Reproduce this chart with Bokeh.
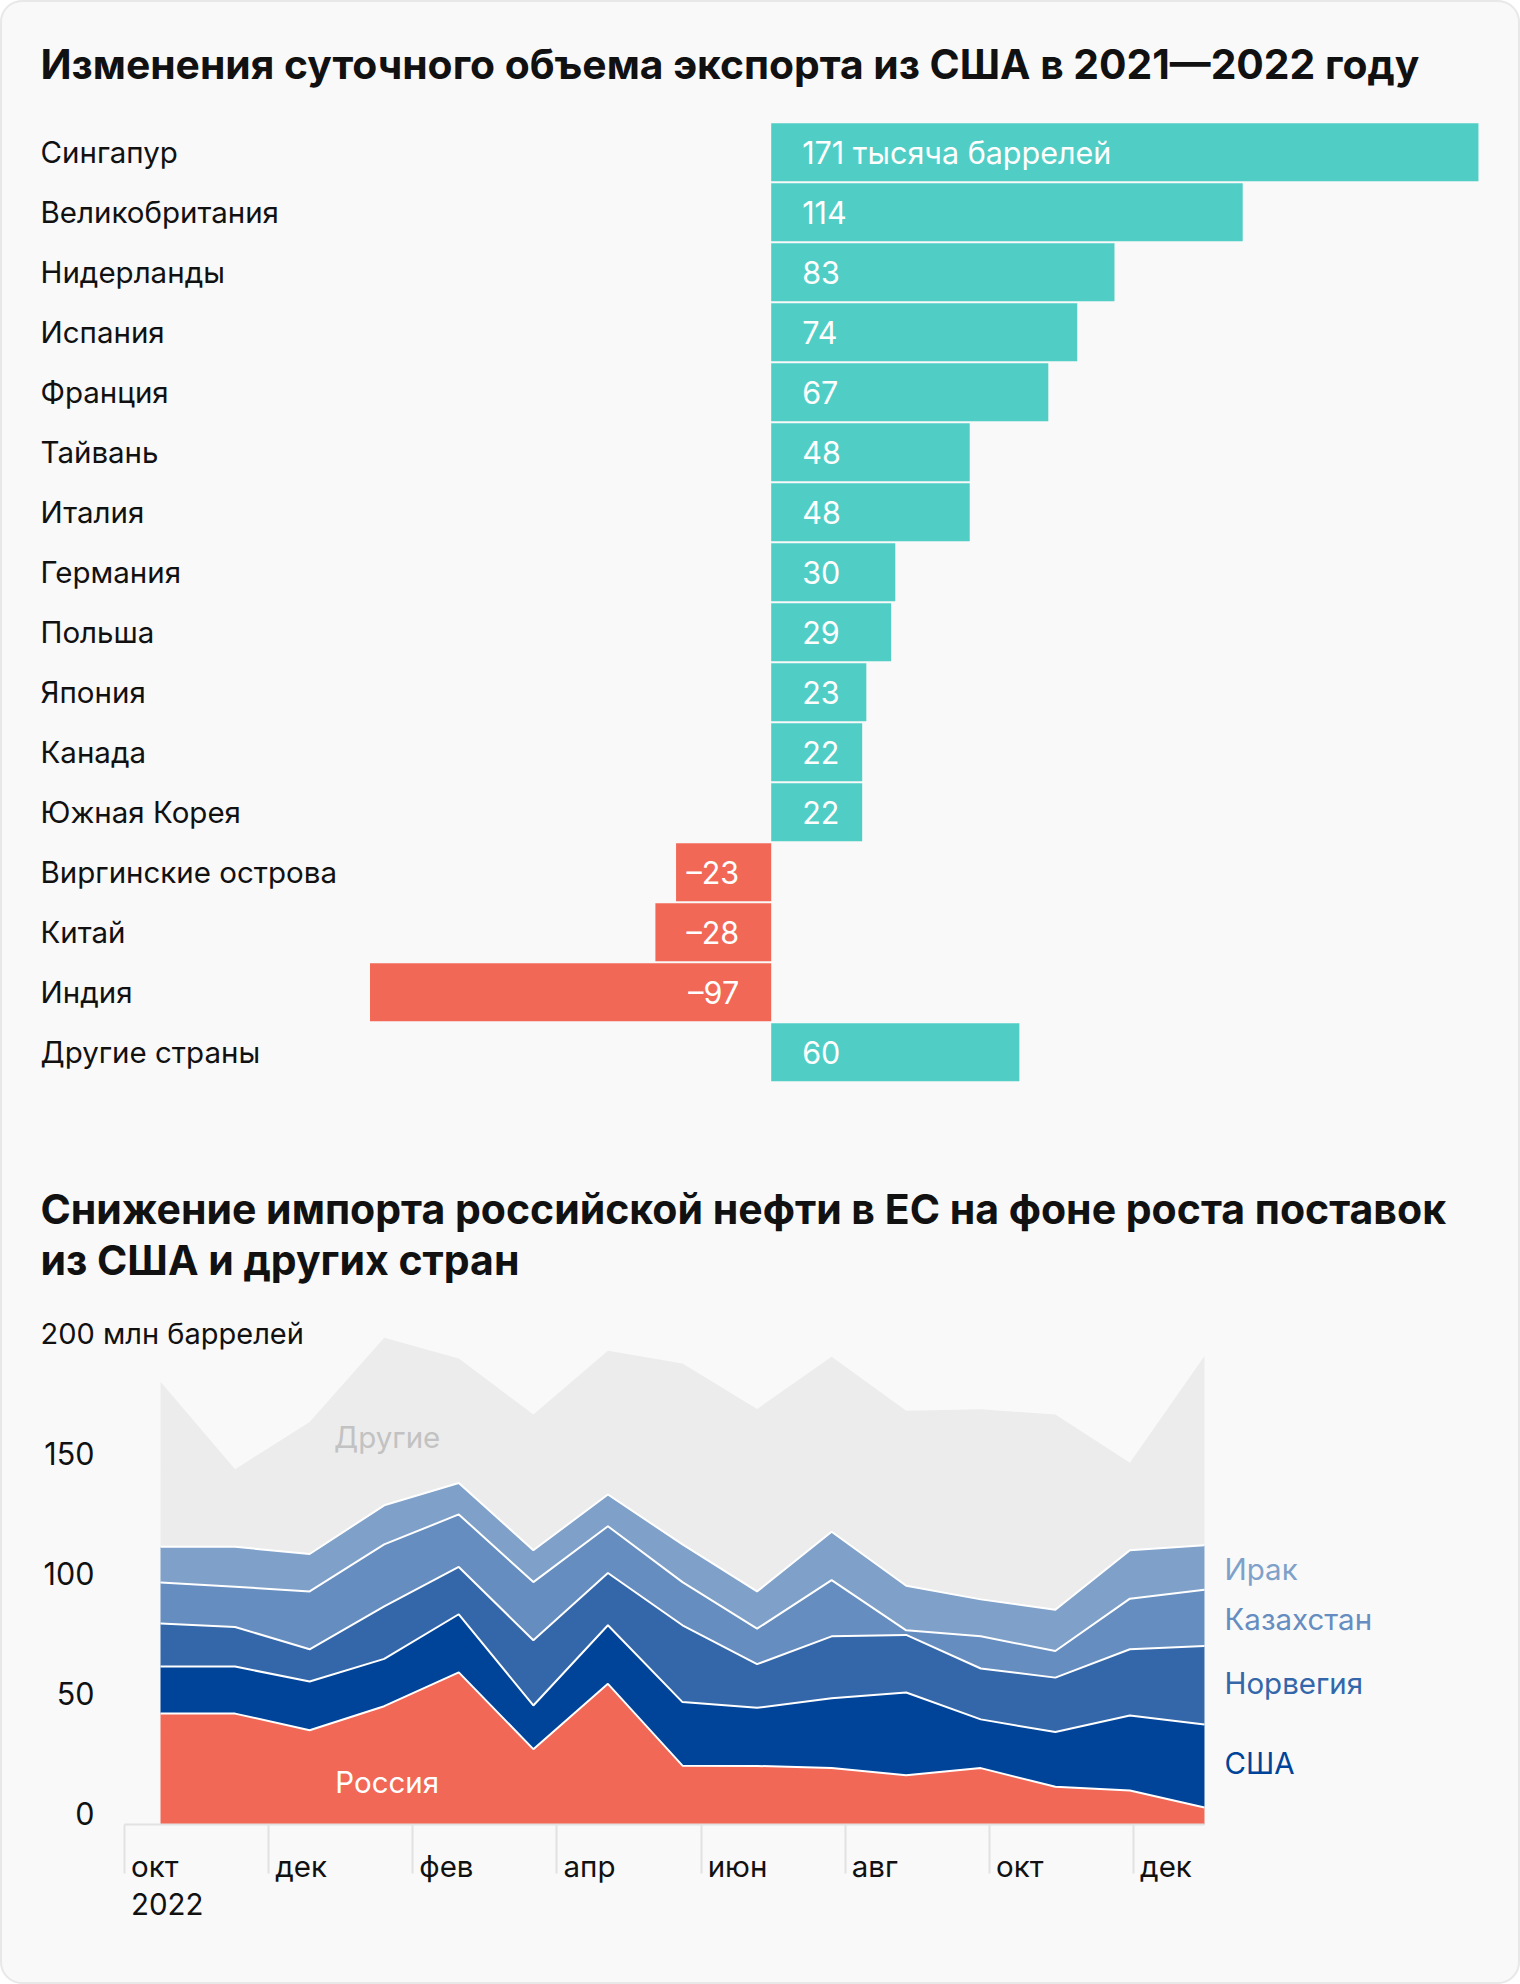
from bokeh.plotting import figure
from bokeh.models import Range1d, ColumnDataSource, LinearAxis, FixedTicker
from bokeh.layouts import column
from bokeh.embed import file_html
from bokeh.resources import INLINE
from bokeh.core.properties import value

# ---------------- data: chart 1 ----------------
TITLE1 = "Изменения суточного объема экспорта из США в 2021—2022 году"
countries = ["Сингапур", "Великобритания", "Нидерланды", "Испания", "Франция",
             "Тайвань", "Италия", "Германия", "Польша", "Япония", "Канада",
             "Южная Корея", "Виргинские острова", "Китай", "Индия", "Другие страны"]
changes = [171, 114, 83, 74, 67, 48, 48, 30, 29, 23, 22, 22, -23, -28, -97, 60]
first_unit = "тысяча баррелей"

# ---------------- data: chart 2 ----------------
TITLE2 = ["Снижение импорта российской нефти в ЕС на фоне роста поставок",
          "из США и других стран"]
unit_label = "млн баррелей"
russia  = [46.2, 46.2, 39.3, 49.3, 63.4, 31.4, 58.6, 24.5, 24.4, 23.5, 20.5, 23.5, 15.7, 14.2, 7.1]
usa     = [19.6, 19.6, 20.3, 19.7, 24.2, 18.2, 24.4, 26.5, 24.2, 29.1, 34.5, 20.3, 22.8, 31.2, 34.6]
norway  = [17.9, 16.5, 13.4, 21.9, 19.7, 27.2, 21.8, 32.0, 18.2, 25.8, 24.0, 21.2, 22.7, 27.6, 32.7]
kazakh  = [17.1, 16.8, 24.1, 25.8, 21.9, 24.2, 19.5, 18.0, 14.8, 23.4, 1.9, 13.4, 11.1, 21.1, 23.4]
iraq    = [14.9, 16.6, 15.6, 16.3, 13.1, 13.3, 13.2, 15.7, 15.5, 20.2, 18.6, 15.4, 17.2, 20.2, 18.6]
others  = [68.8, 32.3, 55.0, 69.8, 51.9, 56.5, 59.9, 75.4, 76.0, 72.9, 72.9, 79.2, 81.3, 36.4, 78.8]
series_names = ["Россия", "США", "Норвегия", "Казахстан", "Ирак", "Другие"]
y_ticks = [0, 50, 100, 150]
y_top_tick = 200
month_labels = ["окт", "дек", "фев", "апр", "июн", "авг", "окт", "дек"]
year_label = "2022"

# ---------------- style ----------------
FONT = value("Inter")
INK = "#111111"
TEAL = "#50cec6"
CORAL = "#f26856"
C_USA, C_NOR, C_KAZ, C_IRQ, C_OTH = "#00449a", "#3467a9", "#658dc0", "#7fa1c9", "#ececec"
W = 1520
FS = "29.5px"

# ---------------- figure 1: bars ----------------
ZERO_X, UNIT = 770.7, 4.136      # page px of value 0, px per thousand barrels
ROW0_Y, ROW = 151.7, 60.0        # page px of first row centre, row pitch
P1_TOP, P1_BOTTOM = 0, 1130

def fx(px):
    return (px - ZERO_X) / UNIT

def fy(py):
    return (py - ROW0_Y) / ROW

p1 = figure(width=W, height=P1_BOTTOM - P1_TOP, output_backend="svg", toolbar_location=None,
            x_range=Range1d(fx(0), fx(W)), y_range=Range1d(fy(P1_BOTTOM), fy(P1_TOP)),
            x_axis_location=None, y_axis_location=None, min_border=0)
p1.outline_line_color = None
p1.background_fill_color = None
p1.border_fill_color = None
p1.xgrid.visible = False
p1.ygrid.visible = False

rows = list(range(len(countries)))
labels = []
for i, c in enumerate(changes):
    s = str(c) if c >= 0 else "–" + str(-c)
    if i == 0:
        s = s + " " + first_unit
    labels.append(s)
src1 = ColumnDataSource(dict(
    y=rows, v=changes, country=countries, label=labels,
    color=[TEAL if c >= 0 else CORAL for c in changes],
    off=[31 if c >= 0 else -32 for c in changes],
    align=["left" if c >= 0 else "right" for c in changes],
))
p1.hbar(y="y", left=0, right="v", height=58 / 60, fill_color="color", line_color=None, source=src1)
p1.text(x=0, y="y", text="label", x_offset="off", text_align="align", text_baseline="middle",
        text_color="white", text_font=FONT, text_font_size="30.5px", source=src1)
p1.text(x=fx(40), y="y", text="country", text_align="left", text_baseline="middle",
        text_color=INK, text_font=FONT, text_font_size=FS, source=src1)
p1.text(x=[fx(40)], y=[fy(63)], text=[TITLE1], text_align="left", text_baseline="middle",
        text_color=INK, text_font=FONT, text_font_size="40.8px", text_font_style="bold")

# ---------------- figure 2: stacked areas ----------------
PX0, PX_STEP = 160.0, 74.57      # page px of first point, px per data point
BASE_Y, VUNIT = 1824.0, 2.4      # page px of value 0, px per million barrels
P2_TOP, P2_BOTTOM = 1130, 1984
MONTH_STEP = 0.9666              # axis months are slightly narrower than point spacing
TICK0 = (124 - PX0) / PX_STEP
LABEL_LIFT = 11.4                # y tick labels sit just above their value

def gx(px):
    return (px - PX0) / PX_STEP

def gy(py):
    return (BASE_Y - py) / VUNIT

p2 = figure(width=W, height=P2_BOTTOM - P2_TOP, output_backend="svg", toolbar_location=None,
            x_range=Range1d(gx(0), gx(W)), y_range=Range1d(gy(P2_BOTTOM), gy(P2_TOP)),
            x_axis_location=None, y_axis_location=None, min_border=0)
p2.outline_line_color = None
p2.background_fill_color = None
p2.border_fill_color = None
p2.xgrid.visible = False
p2.ygrid.visible = False

idx = list(range(len(russia)))
src2 = ColumnDataSource(dict(x=idx, russia=russia, usa=usa, norway=norway,
                             kazakh=kazakh, iraq=iraq, others=others))
stack = ["russia", "usa", "norway", "kazakh", "iraq", "others"]
p2.varea_stack(stackers=stack, x="x", color=[CORAL, C_USA, C_NOR, C_KAZ, C_IRQ, C_OTH], source=src2)
p2.vline_stack(stackers=stack[:5], x="x", color="white", line_width=2, source=src2)

ticks = [TICK0 + 2 * k * MONTH_STEP for k in range(len(month_labels))]
xaxis = LinearAxis(ticker=FixedTicker(ticks=ticks), bounds=(TICK0, idx[-1]), fixed_location=0,
                   axis_line_color="#e2e2e2", axis_line_width=2,
                   major_tick_line_color="#e2e2e2", major_tick_line_width=2,
                   major_tick_in=0, major_tick_out=49,
                   minor_tick_line_color=None, major_label_text_color=None)
p2.add_layout(xaxis, "below")

# month labels under the ticks
p2.text(x=ticks + [ticks[0]], y=[gy(1865)] * len(ticks) + [gy(1903.5)],
        text=month_labels + [year_label], x_offset=6.5, text_align="left", text_baseline="middle",
        text_color=INK, text_font=FONT, text_font_size="29.5px")

# y tick labels
p2.text(x=gx(94), y=[t + LABEL_LIFT / VUNIT for t in y_ticks], text=[str(t) for t in y_ticks],
        text_align="right", text_baseline="middle", text_color=INK, text_font=FONT,
        text_font_size="30.5px")
p2.text(x=[gx(40)], y=[y_top_tick + LABEL_LIFT / VUNIT], text=[f"{y_top_tick} {unit_label}"],
        text_align="left", text_baseline="middle", text_color=INK, text_font=FONT,
        text_font_size="29px")

# title
p2.text(x=gx(40), y=[gy(1208.6), gy(1259.2)], text=TITLE2, text_align="left", text_baseline="middle",
        text_color=INK, text_font=FONT, text_font_size="41px", text_font_style="bold")

# series labels
lab_x = [3.04, 3.04, gx(1224), gx(1224), gx(1224), gx(1224)]
lab_y = [17.7, 161.5, gy(1762), gy(1682), gy(1618), gy(1568)]
lab_txt = [series_names[0], series_names[5], series_names[1], series_names[2], series_names[3], series_names[4]]
lab_col = ["white", "#c2c2c2", C_USA, C_NOR, C_KAZ, C_IRQ]
lab_al = ["center", "center", "left", "left", "left", "left"]
p2.text(x=lab_x, y=lab_y, text=lab_txt, text_color=lab_col, text_align=lab_al,
        text_baseline="middle", text_font=FONT, text_font_size="29.5px")

layout = column(p1, p2, styles={"background-color": "#f9f9f9", "border-radius": "22px",
                                 "box-shadow": "inset 0 0 0 2px #e8e8e8"})
open("out.html", "w").write(file_html(layout, INLINE))
